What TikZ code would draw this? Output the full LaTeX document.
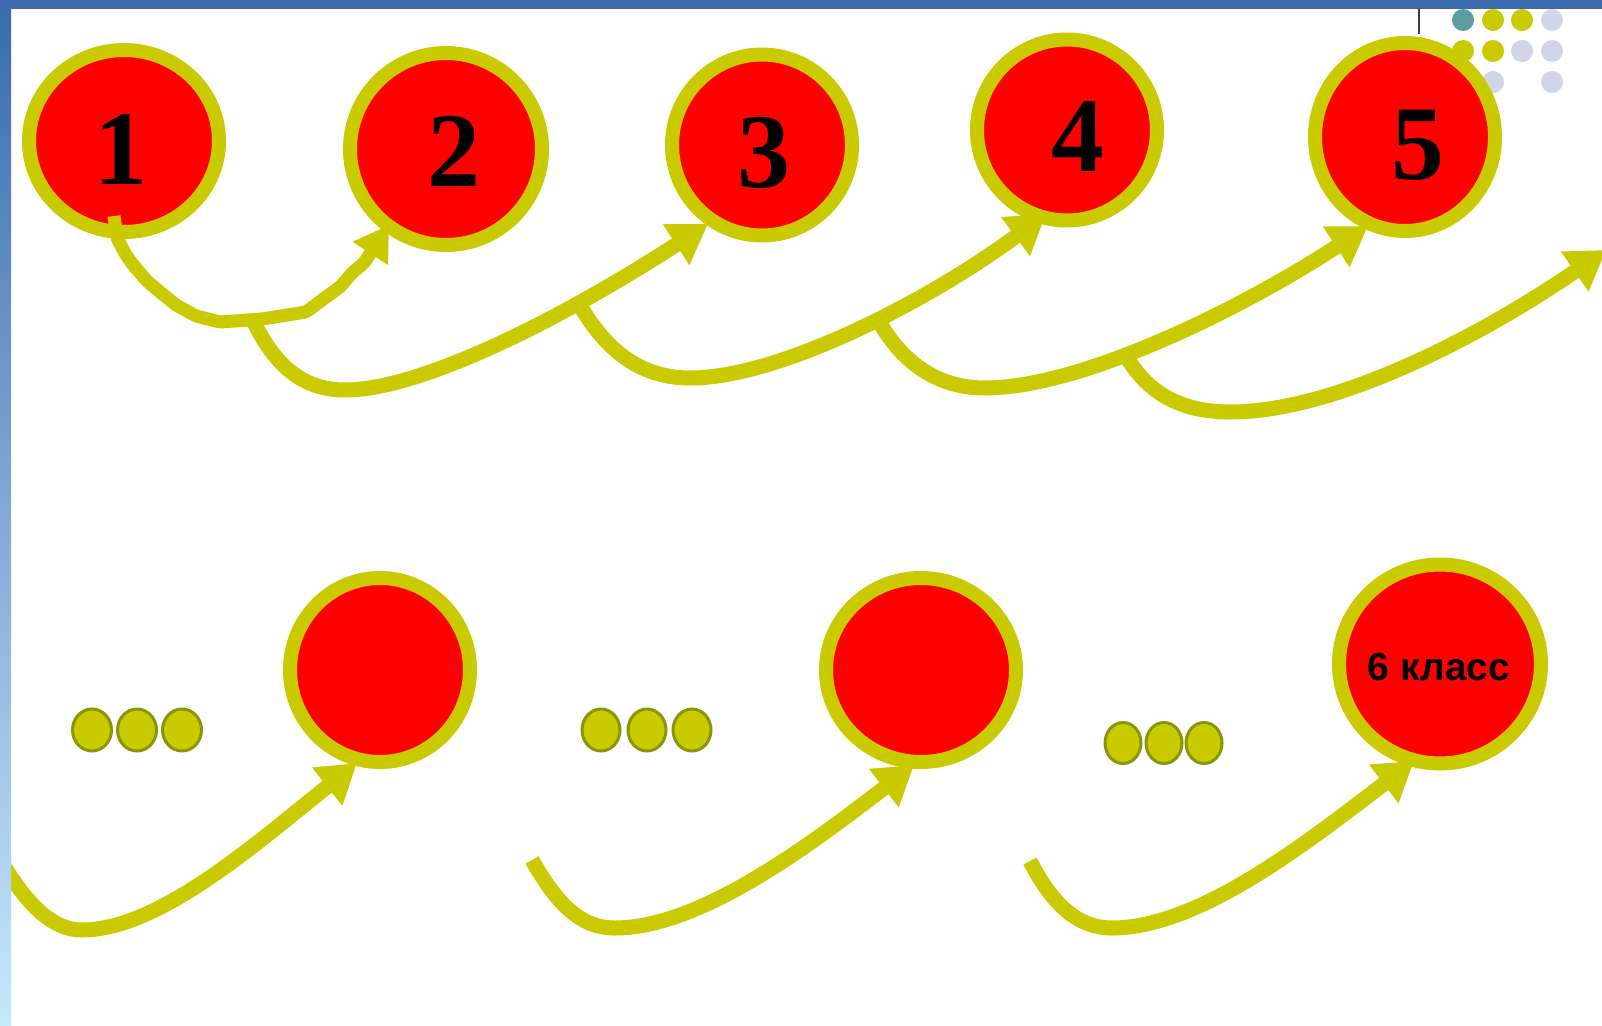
\documentclass[tikz,border=0pt]{standalone}
\usepackage{fontspec}
\newfontfamily\numfont{Liberation Serif}
\newfontfamily\lblfont{Liberation Sans}
\usetikzlibrary{arrows.meta,shapes.geometric}
\definecolor{ring}{RGB}{202,202,0}
\definecolor{ringdark}{RGB}{135,150,10}
\definecolor{barblue}{RGB}{58,106,172}
\definecolor{striplight}{RGB}{198,232,252}
\definecolor{tealdot}{RGB}{95,155,160}
\definecolor{lav}{RGB}{210,212,232}
\definecolor{redfill}{RGB}{255,0,0}
\begin{document}
\begin{tikzpicture}[x=1pt,y=-1pt,
  ball/.style={ellipse, draw=ring, fill=redfill, line width=14pt, inner sep=0pt},
  digit/.style={font=\numfont\bfseries\fontsize{106}{110}\selectfont, inner sep=0pt},
  lbl/.style={font=\lblfont\bfseries\fontsize{39}{40}\selectfont, inner sep=0pt},
  arr/.style={draw=ring, line width=15pt, -{Triangle[length=38pt,width=46pt]}},
  dot/.style={ellipse, fill=ring, draw=ringdark, line width=3pt, inner sep=0pt},
  deco/.style={circle, inner sep=0pt, minimum size=22pt}
]
\useasboundingbox (0,0) rectangle (1602,1025);
\fill[white] (0,0) rectangle (1602,1025);

% top-right decoration
\node[deco, fill=tealdot] (g11) at (1463,20) {};
\node[deco, fill=ring] (g12) at (1493,20) {};
\node[deco, fill=ring] (g13) at (1522,20) {};
\node[deco, fill=lav] (g14) at (1552,20) {};
\node[deco, fill=ring] (g21) at (1463,51) {};
\node[deco, fill=ring] (g22) at (1493,51) {};
\node[deco, fill=lav] (g23) at (1522,51) {};
\node[deco, fill=lav] (g24) at (1552,51) {};
\node[deco, fill=lav] (g32) at (1493,82) {};
\node[deco, fill=lav] (g34) at (1552,82) {};
\coordinate (vl1) at (1419,9);
\coordinate (vl2) at (1419,34);
\draw[line width=1.5pt, black!75] (vl1) -- (vl2);

% circles
\node[ball, minimum width=190pt, minimum height=182pt] (c1) at (124,141) {};
\node[ball, minimum width=192pt, minimum height=192pt] (c2) at (446,149) {};
\node[ball, minimum width=180pt, minimum height=181pt] (c3) at (762,145) {};
\node[ball, minimum width=180pt, minimum height=181pt] (c4) at (1067,130) {};
\node[ball, minimum width=180pt, minimum height=188pt] (c5) at (1405,137) {};
\node[ball, minimum width=180pt, minimum height=184pt] (c6) at (380,670) {};
\node[ball, minimum width=190pt, minimum height=184pt] (c7) at (921,670) {};
\node[ball, minimum width=202pt, minimum height=199pt] (c8) at (1440,664) {};

\node[digit] (d1) at (121,150) {1};
\node[digit] (d2) at (454,151) {2};
\node[digit] (d3) at (764,153) {3};
\node[digit] (d4) at (1078,137) {4};
\node[digit] (d5) at (1418,145) {5};
\node[lbl] (t8) at (1439,667) {6 класс};

% ellipsis dots
\foreach \n/\x in {1/92,2/137,3/182}
  \node[dot, minimum width=39pt, minimum height=42pt] (ea\n) at (\x,730) {};
\foreach \n/\x in {1/601,2/647,3/692}
  \node[dot, minimum width=38pt, minimum height=42pt] (eb\n) at (\x,730) {};
\foreach \n/\x in {1/1123,2/1164,3/1204}
  \node[dot, minimum width=36pt, minimum height=41pt] (ec\n) at (\x,743) {};

% arrow coordinates
\coordinate (a0) at (114,216);
\coordinate (tip2) at (389,225);
\coordinate (jA) at (252,318);
\coordinate (tip3) at (708,224);
\coordinate (jB) at (578,302);
\coordinate (tip4) at (1046,214);
\coordinate (jC) at (877,318);
\coordinate (tip5) at (1368,226);
\coordinate (jD) at (1124,352);
\coordinate (tip6) at (1606,250);
\coordinate (f0) at (4,866);
\coordinate (tip7) at (357,763);
\coordinate (g0) at (532,860);
\coordinate (tip8) at (914,765);
\coordinate (h0) at (1030,861);
\coordinate (tip9) at (1414,761);

% top arrows
\draw[arr, line width=13pt, -{Triangle[length=34pt,width=40pt]}, rounded corners=3pt]
  (a0) -- (117,238) -- (126,255) -- (134,266) -- (147,281) -- (160,292)
  -- (176,305) -- (196,316) -- (220,322) -- (262,319) -- (306,312)
  -- (322,300) -- (340,287) -- (352,273) -- (364,263) -- (tip2);
\draw[arr] (jA) .. controls (275,368) and (305,390) .. (345,390)
  .. controls (420,390) and (560,320) .. (tip3);
\draw[arr] (jB) .. controls (605,350) and (640,378) .. (690,378)
  .. controls (780,378) and (930,300) .. (tip4);
\draw[arr] (jC) .. controls (900,360) and (935,388) .. (985,388)
  .. controls (1080,388) and (1240,310) .. (tip5);
\draw[arr] (jD) .. controls (1145,392) and (1180,412) .. (1230,412)
  .. controls (1340,412) and (1490,330) .. (tip6);

% bottom arrows
\draw[arr] (f0) .. controls (25,900) and (50,930) .. (82,930)
  .. controls (160,930) and (260,840) .. (tip7);
\draw[arr] (g0) .. controls (555,900) and (578,928) .. (615,928)
  .. controls (700,928) and (810,845) .. (tip8);
\draw[arr] (h0) .. controls (1050,900) and (1075,928) .. (1112,928)
  .. controls (1200,928) and (1310,840) .. (tip9);

% frame
\shade[top color=barblue, bottom color=striplight] (0,0) rectangle (11,1025);
\fill[barblue] (0,0) rectangle (1602,9);
\end{tikzpicture}
\end{document}
